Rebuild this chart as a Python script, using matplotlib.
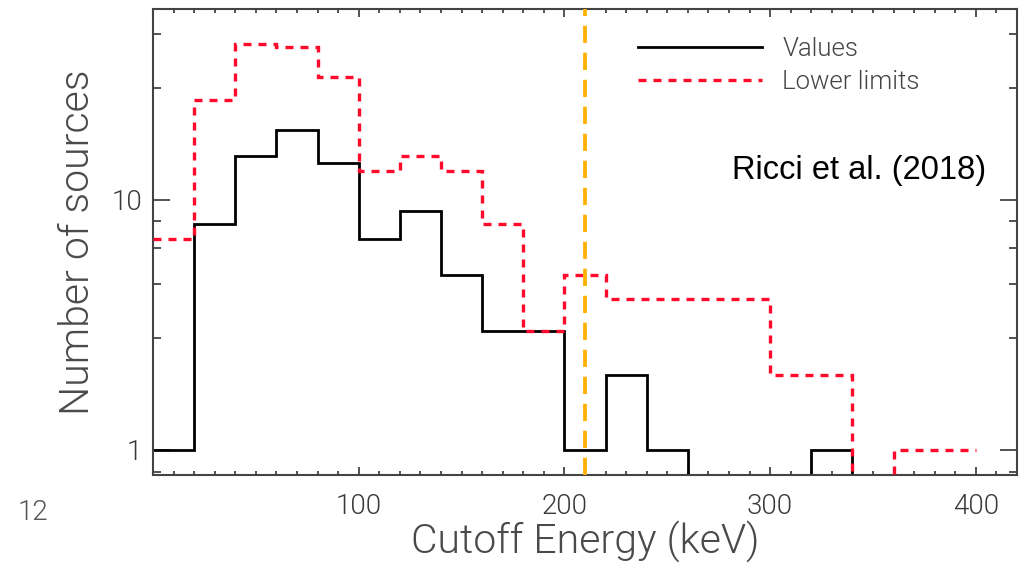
import numpy as np
import matplotlib
matplotlib.use('Agg')
from matplotlib import pyplot as plt
from matplotlib.ticker import FixedLocator, NullFormatter

# histogram data (20 keV bins)
bin_edges = np.arange(0, 420, 20)
values = [1, 8, 15, 19, 14, 7, 9, 5, 3, 3, 1, 2, 1, 0, 0, 0, 1, 0, 0, 0]
lower_limits = [7, 25, 42, 41, 31, 13, 15, 13, 8, 3, 5, 4, 4, 4, 4, 2, 2, 0, 1, 1]
median_cut = 210
x_ticks = [100, 200, 300, 400]
y_ticks = [1, 10]
y_ticklabels = ['1', '10']

axis_col = '#444444'
text_col = '#3a3a3a'
plt.rcParams['font.family'] = ['Roboto', 'DejaVu Sans']
plt.rcParams['font.weight'] = 300

fig = plt.figure(figsize=(10.26, 5.63), dpi=100)
ax = fig.add_axes([153 / 1026, 1 - 475 / 563, 864 / 1026, 466 / 563])

# empty bins drop below the axis (log scale)
floor = 0.1
vals = np.where(np.array(values) > 0, values, floor)
lows = np.where(np.array(lower_limits) > 0, lower_limits, floor)

ax.stairs(vals, bin_edges, baseline=None, color='black', lw=2.0, zorder=2, label='Values')
ax.stairs(lows, bin_edges, baseline=None, color='#ff0a2a', lw=2.4, ls=(0, (2.4, 2.1)),
          zorder=3, label='Lower limits')
ax.axvline(median_cut, color='#ffb000', lw=2.7, ls=(0, (4.6, 2.6)), zorder=4)

ax.set_yscale('log')
ax.set_xlim(0, 420)
ax.set_ylim(0.794, 58)

ax.set_xticks(x_ticks)
ax.xaxis.set_minor_locator(FixedLocator(np.arange(10, 420, 10)))
ax.set_yticks(y_ticks)
ax.set_yticklabels(y_ticklabels)
# IDL style minor ticks, linear steps inside each decade
minor_y = list(0.1 + 0.18 * np.arange(1, 5)) + list(1 + 1.8 * np.arange(1, 5)) + list(10 + 18 * np.arange(1, 5))
ax.yaxis.set_minor_locator(FixedLocator(minor_y))
ax.yaxis.set_minor_formatter(NullFormatter())

ax.tick_params(axis='both', which='both', direction='in', top=True, right=True,
               color=axis_col, width=1.3, labelcolor=text_col, labelsize=20)
ax.tick_params(axis='x', which='major', length=6, pad=13)
ax.tick_params(axis='x', which='minor', length=3)
ax.tick_params(axis='y', which='major', length=12, pad=8)
ax.tick_params(axis='y', which='minor', length=6)
for sp in ax.spines.values():
    sp.set_color(axis_col)
    sp.set_linewidth(1.5)

ax.set_xlabel('Cutoff Energy (keV)', fontsize=29.5, color='#4a4a4a', labelpad=0, fontweight=300)
ax.set_ylabel('Number of sources', fontsize=29.5, color='#4a4a4a', labelpad=10, fontweight=300)

leg = ax.legend(loc='upper left', bbox_to_anchor=(0.547, 0.968), frameon=False,
                fontsize=18.5, handlelength=4.8, handletextpad=0.8, labelspacing=0.36,
                borderpad=0, labelcolor='#444444')

ax.text(0.964, 0.654, 'Ricci et al. (2018)', transform=ax.transAxes, ha='right', va='center',
        fontsize=23.5, color='black', family='Liberation Sans', fontweight='normal')

fig.text(0.0175, 0.09, '12', fontsize=20, color='#555555', ha='left', va='center')

fig.savefig('out.png', dpi=100)
